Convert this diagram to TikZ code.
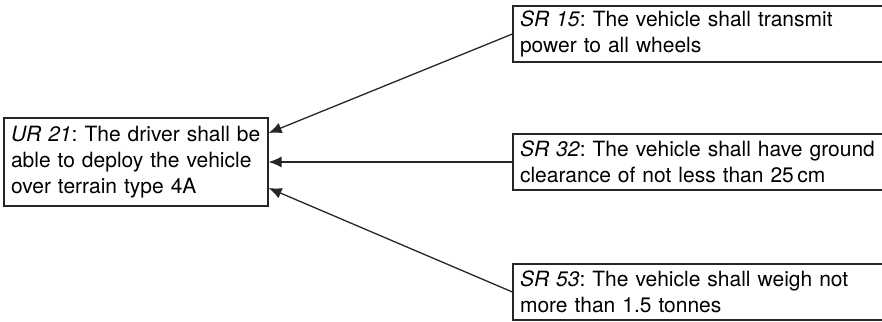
\documentclass[tikz,border=0pt]{standalone}
\usepackage{fontspec}
\setmainfont{TeX Gyre Heros}
\usetikzlibrary{positioning,arrows.meta}

\begin{document}
\frenchspacing
\begin{tikzpicture}
[every node/.style={draw=black!85,line width=0.6pt,rectangle,align=left,inner xsep=3.5pt,inner ysep=0pt,
   font=\fontsize{10.5}{13}\selectfont},
 user/.style={text width=125pt,minimum height=44pt},
 sys/.style={text width=184pt,minimum height=28pt},
 trace/.style={-{Latex[length=6.5pt,width=5.5pt]},line width=0.65pt,black!85}]
\useasboundingbox (0,0) rectangle (441pt,-160.5pt);
\node[user] (ur21) at (68pt,-81pt) {\textit{UR 21}: The driver shall be\\able to deploy the vehicle\\over terrain type 4A};
\node[sys] (sr32) [on grid,right=284pt of ur21]   {\textit{SR 32}: The vehicle shall have ground\\clearance of not less than 25\,cm};
\node[sys] (sr15) [on grid,above=64pt of sr32]    {\textit{SR 15}: The vehicle shall transmit\\power to all wheels};
\node[sys] (sr53) [on grid,below=65pt of sr32]    {\textit{SR 53}: The vehicle shall weigh not\\more than 1.5 tonnes};
\draw[trace] (sr15.west) -- ([yshift=14.5pt]ur21.east);
\draw[trace] (sr32.west) -- (ur21.east);
\draw[trace] (sr53.west) -- ([yshift=-13pt]ur21.east);
\end{tikzpicture}
\end{document}
